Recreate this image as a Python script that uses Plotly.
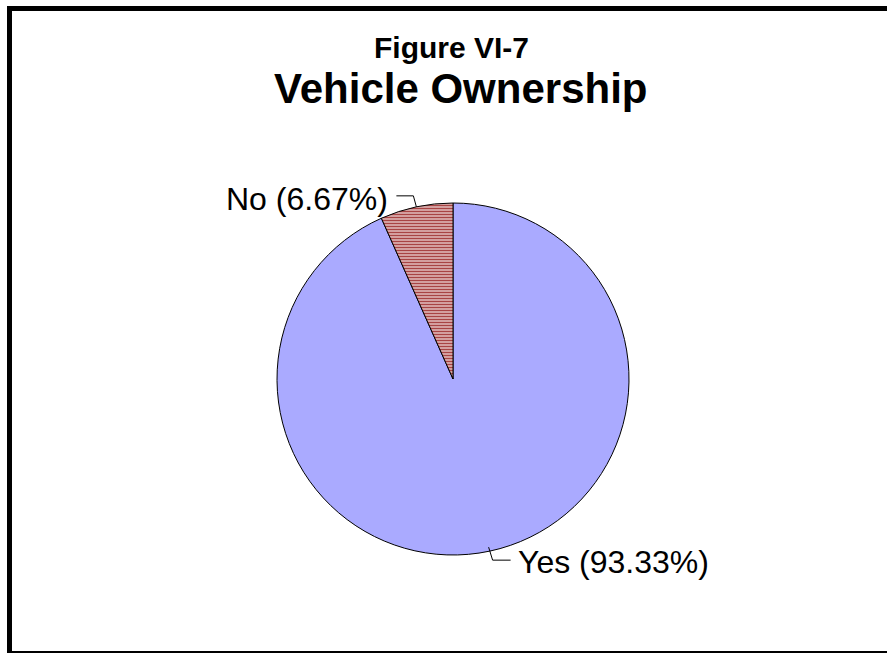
import math
import plotly.graph_objects as go

# Survey result: share of households that own a vehicle
labels = ["Yes", "No"]
values = [93.33, 6.67]
slice_colors = ["#AAAAFF", "#FFFFFF"]

W, H = 887, 653
FONT = "Arial, 'Liberation Sans', sans-serif"

# pie geometry in pixels
CX, CY, R = 453, 379, 176


def px(x, y):
    """pixel -> paper coordinates (margins are zero)"""
    return x / W, 1 - y / H


def edge_point(frac_mid):
    # clockwise angle from 12 o'clock
    a = 2 * math.pi * frac_mid
    return CX + R * math.sin(a), CY - R * math.cos(a)


fig = go.Figure()

dx0, dy1 = px(CX - R, CY - R)
dx1, dy0 = px(CX + R, CY + R)
fig.add_trace(go.Pie(
    labels=labels,
    values=values,
    sort=False,
    direction="clockwise",
    rotation=0,
    textinfo="none",
    hoverinfo="label+percent",
    domain=dict(x=[dx0, dx1], y=[dy0, dy1]),
    marker=dict(
        colors=slice_colors,
        line=dict(color="#000000", width=1),
        pattern=dict(
            shape=["", "-"],
            fgcolor="#A84444",
            bgcolor="#F4E4E4",
            size=3,
            solidity=0.62,
        ),
    ),
    showlegend=False,
))

total = sum(values)
mids = []
acc = 0.0
for v in values:
    mids.append((acc + v / 2) / total)
    acc += v

shapes = []
annotations = []

# leader line + label for each slice
for lab, v, m in zip(labels, values, mids):
    ex, ey = edge_point(m)
    text = f"{lab} ({v:.2f}%)"
    if ex < CX:
        # label on the upper left
        kx, ky = ex - 3, ey - 11
        hx = kx - 17
        tx, ty, anchor = hx - 6, ky + 3, "right"
    else:
        ex, ey = ex - 1, ey - 4
        kx, ky = ex + 4, ey + 13
        hx = kx + 18
        tx, ty, anchor = hx + 5, ky + 2, "left"
    path = "M {} {} L {} {} L {} {}".format(
        *px(ex, ey), *px(kx, ky), *px(hx, ky))
    shapes.append(dict(type="path", xref="paper", yref="paper", path=path,
                       line=dict(color="#000000", width=1)))
    ax, ay = px(tx, ty)
    annotations.append(dict(
        x=ax, y=ay, xref="paper", yref="paper", text=text,
        xanchor=anchor, yanchor="middle", showarrow=False,
        font=dict(family=FONT, size=32, color="#000000")))

# two-line title
tx1, ty1 = px(451, 47)
tx2, ty2 = px(460, 88)
annotations.append(dict(x=tx1, y=ty1, xref="paper", yref="paper",
                        text="<b>Figure VI-7</b>", showarrow=False,
                        xanchor="center", yanchor="middle",
                        font=dict(family=FONT, size=30, color="#000000")))
annotations.append(dict(x=tx2, y=ty2, xref="paper", yref="paper",
                        text="<b>Vehicle Ownership</b>", showarrow=False,
                        xanchor="center", yanchor="middle",
                        font=dict(family=FONT, size=42, color="#000000")))

# outer frame
fx0, fy0 = px(9.5, 653.5)
fx1, fy1 = px(892, 8.5)
shapes.append(dict(type="rect", xref="paper", yref="paper",
                   x0=fx0, y0=fy0, x1=fx1, y1=fy1,
                   line=dict(color="#000000", width=5)))

fig.update_layout(
    width=W, height=H,
    margin=dict(l=0, r=0, t=0, b=0),
    paper_bgcolor="#FFFFFF",
    plot_bgcolor="#FFFFFF",
    shapes=shapes,
    annotations=annotations,
)

fig.write_html("out.html")
